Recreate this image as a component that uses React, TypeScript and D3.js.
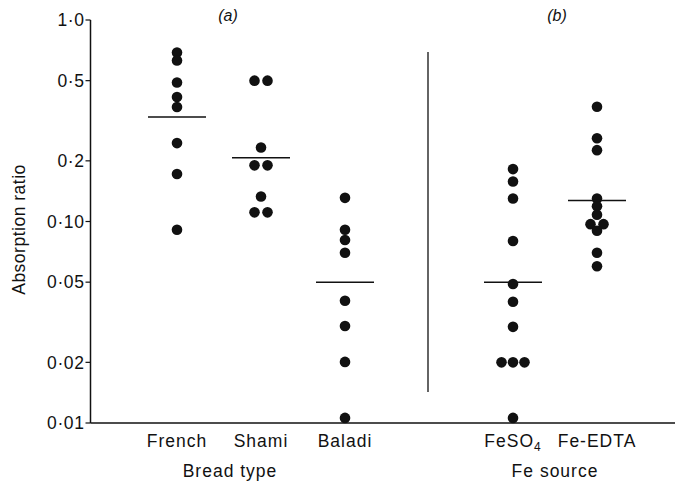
import { useEffect, useRef } from "react";
import * as d3 from "d3";

// absorption ratios, one list per group
const french = [0.69, 0.63, 0.49, 0.415, 0.37, 0.245, 0.172, 0.091];
const shami = [0.5, 0.5, 0.233, 0.19, 0.19, 0.133, 0.111, 0.111];
const baladi = [0.131, 0.091, 0.081, 0.07, 0.0404, 0.0303, 0.0201, 0.0106];
const feso4 = [0.182, 0.158, 0.13, 0.08, 0.049, 0.04, 0.03, 0.02, 0.02, 0.02, 0.0106];
const feEdta = [0.371, 0.259, 0.226, 0.13, 0.119, 0.108, 0.097, 0.097, 0.09, 0.07, 0.06];

const groupNames = ["French", "Shami", "Baladi", "FeSO4", "Fe-EDTA"];
const groupValues = [french, shami, baladi, feso4, feEdta];
const groupMeans = [0.33, 0.207, 0.05, 0.05, 0.127];

const yTicks = [1.0, 0.5, 0.2, 0.1, 0.05, 0.02, 0.01];
const yTickLabels = ["1·0", "0·5", "0·2", "0·10", "0·05", "0·02", "0·01"];

const panels = [
  { label: "(a)", title: "Bread type", groups: ["French", "Shami", "Baladi"] },
  { label: "(b)", title: "Fe source", groups: ["FeSO4", "Fe-EDTA"] },
];

const W = 675;
const H = 481;
const FONT = "'Liberation Sans', Arial, sans-serif";

export default function App() {
  const ref = useRef<SVGSVGElement | null>(null);

  useEffect(() => {
    if (!ref.current) return;
    const svg = d3.select(ref.current);
    svg.selectAll("*").remove();

    const left = 90.5;
    const bottom = 423;
    const top = 20;

    const y = d3.scaleLog().domain([1, 0.01]).range([top, bottom]);
    // category positions, with one empty slot where the panels split
    const x = d3
      .scalePoint<string>()
      .domain(["French", "Shami", "Baladi", "gap", "FeSO4", "Fe-EDTA"])
      .range([177, 597]);

    const ink = "#111";

    // axes
    svg
      .append("line")
      .attr("x1", left)
      .attr("x2", left)
      .attr("y1", top)
      .attr("y2", bottom)
      .attr("stroke", ink)
      .attr("stroke-width", 1.5);
    svg
      .append("line")
      .attr("x1", left)
      .attr("x2", W)
      .attr("y1", bottom)
      .attr("y2", bottom)
      .attr("stroke", ink)
      .attr("stroke-width", 1.5);

    const ticks = svg.append("g");
    yTicks.forEach((t, i) => {
      ticks
        .append("line")
        .attr("x1", left - 5)
        .attr("x2", left)
        .attr("y1", y(t))
        .attr("y2", y(t))
        .attr("stroke", ink)
        .attr("stroke-width", 1.2);
      ticks
        .append("text")
        .attr("x", left - 6)
        .attr("y", y(t))
        .attr("dy", "0.36em")
        .attr("text-anchor", "end")
        .attr("font-family", FONT)
        .attr("font-size", 17.5)
        .attr("letter-spacing", 0.6)
        .attr("fill", ink)
        .text(yTickLabels[i]);
    });

    svg
      .append("text")
      .attr("transform", `translate(25,${(top + bottom) / 2 + 8}) rotate(-90)`)
      .attr("text-anchor", "middle")
      .attr("font-family", FONT)
      .attr("font-size", 17.5)
      .attr("letter-spacing", 0.5)
      .attr("fill", ink)
      .text("Absorption ratio");

    // divider between panels
    svg
      .append("line")
      .attr("x1", 428)
      .attr("x2", 428)
      .attr("y1", 52)
      .attr("y2", 392)
      .attr("stroke", ink)
      .attr("stroke-width", 1.3);

    // category labels
    groupNames.forEach((name) => {
      const t = svg
        .append("text")
        .attr("x", x(name)!)
        .attr("y", 447)
        .attr("text-anchor", "middle")
        .attr("font-family", FONT)
        .attr("font-size", 17.5)
        .attr("letter-spacing", 1)
        .attr("fill", ink);
      if (name === "FeSO4") {
        t.append("tspan").text("FeSO");
        t.append("tspan").attr("font-size", 12).attr("dy", 4).text("4");
      } else {
        t.text(name);
      }
    });

    // panel titles and labels
    panels.forEach((p) => {
      const xs = p.groups.map((g) => x(g)!);
      const cx = d3.mean(xs)!;
      svg
        .append("text")
        .attr("x", p.label === "(a)" ? 230 : 555)
        .attr("y", 477)
        .attr("text-anchor", "middle")
        .attr("font-family", FONT)
        .attr("font-size", 17.5)
        .attr("letter-spacing", 1)
        .attr("fill", ink)
        .text(p.title);
      svg
        .append("text")
        .attr("x", p.label === "(a)" ? 228 : 557)
        .attr("y", 21)
        .attr("text-anchor", "middle")
        .attr("font-family", FONT)
        .attr("font-size", 16)
        .attr("font-style", "italic")
        .attr("fill", ink)
        .text(p.label);
      void cx;
    });

    // dots: identical values are spread sideways
    const spread = 11.5;
    groupNames.forEach((name, gi) => {
      const vals = groupValues[gi];
      const cx = x(name)!;
      const counts = d3.rollup(vals, (v) => v.length, (v) => v);
      const seen = new Map<number, number>();
      vals.forEach((v) => {
        const n = counts.get(v)!;
        const k = seen.get(v) ?? 0;
        seen.set(v, k + 1);
        const dx = (k - (n - 1) / 2) * (n === 2 ? 13 : spread);
        svg
          .append("circle")
          .attr("cx", cx + dx)
          .attr("cy", y(v))
          .attr("r", 5.3)
          .attr("fill", ink);
      });

      svg
        .append("line")
        .attr("x1", cx - 29)
        .attr("x2", cx + 29)
        .attr("y1", y(groupMeans[gi]))
        .attr("y2", y(groupMeans[gi]))
        .attr("stroke", ink)
        .attr("stroke-width", 1.5);
    });
  }, []);

  return (
    <svg
      ref={ref}
      width={W}
      height={H}
      style={{ position: "absolute", left: 0, top: 0, background: "#fff" }}
    />
  );
}
